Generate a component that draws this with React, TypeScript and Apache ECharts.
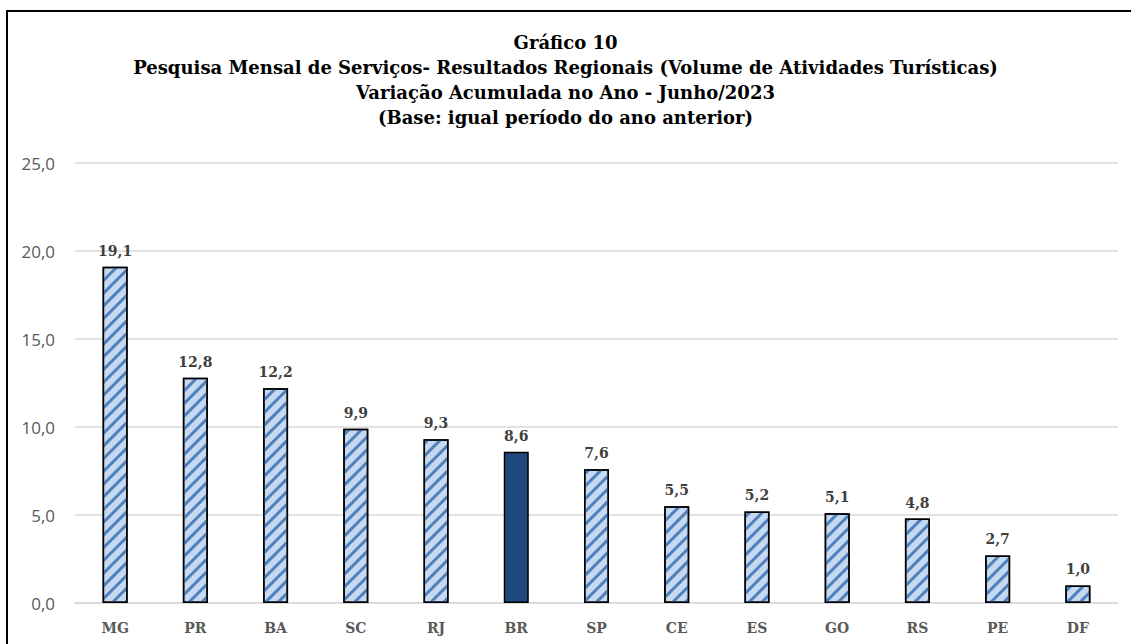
import React, { useEffect, useRef } from "react";
import * as echarts from "echarts";

const titleLines = [
  "Gráfico 10",
  "Pesquisa Mensal de Serviços- Resultados Regionais (Volume de Atividades Turísticas)",
  "Variação Acumulada no Ano - Junho/2023",
  "(Base: igual período do ano anterior)",
];
const categories = ["MG", "PR", "BA", "SC", "RJ", "BR", "SP", "CE", "ES", "GO", "RS", "PE", "DF"];
const values = [19.1, 12.8, 12.2, 9.9, 9.3, 8.6, 7.6, 5.5, 5.2, 5.1, 4.8, 2.7, 1.0];
const highlight = "BR";
const yMin = 0;
const yMax = 25;
const yInterval = 5;

const fmt = (v: number) => v.toFixed(1).replace(".", ",");

export default function App() {
  const ref = useRef<HTMLDivElement>(null);
  useEffect(() => {
    if (!ref.current) return;
    const chart = echarts.init(ref.current, undefined, { renderer: "svg" });
    const striped = values.map((v, i) => (categories[i] === highlight ? "-" : v));
    const solid = values.map((v, i) => (categories[i] === highlight ? v : "-"));
    const label = {
      show: true,
      position: "top",
      distance: 9,
      formatter: (p: any) => fmt(p.value),
      fontFamily: "DejaVu Serif",
      fontWeight: "bold",
      fontSize: 14,
      color: "#404040",
    };
    chart.setOption({
      animation: false,
      backgroundColor: "#ffffff",
      title: {
        text: titleLines.join("\n"),
        left: "center",
        top: 25,
        textStyle: {
          fontFamily: "DejaVu Serif",
          fontWeight: "bold",
          fontSize: 18,
          lineHeight: 25,
          color: "#000000",
        },
      },
      graphic: [
        { type: "line", shape: { x1: 7, y1: 11, x2: 7, y2: 644 }, style: { stroke: "#000", lineWidth: 2 } },
        { type: "line", shape: { x1: 6, y1: 11, x2: 1131, y2: 11 }, style: { stroke: "#000", lineWidth: 2 } },
      ],
      grid: { left: 75, right: 13, top: 163, bottom: 41, containLabel: false },
      xAxis: {
        type: "category",
        data: categories,
        axisLine: { show: true, lineStyle: { color: "#D9D9D9", width: 1.5 } },
        axisTick: { show: false },
        axisLabel: {
          fontFamily: "DejaVu Serif",
          fontWeight: "bold",
          fontSize: 14,
          color: "#595959",
          margin: 18,
        },
      },
      yAxis: {
        type: "value",
        min: yMin,
        max: yMax,
        interval: yInterval,
        axisLine: { show: false },
        axisTick: { show: false },
        splitLine: { lineStyle: { color: "#D9D9D9", width: 1.5 } },
        axisLabel: {
          formatter: (v: number) => fmt(v),
          fontFamily: "Open Sans",
          fontSize: 17,
          color: "#595959",
          margin: 20,
        },
      },
      series: [
        {
          type: "bar",
          data: striped,
          barWidth: 25,
          barGap: "-100%",
          itemStyle: {
            color: "#C6D9F1",
            borderColor: "#000000",
            borderWidth: 1.5,
            decal: {
              symbol: "rect",
              color: "#4F81BD",
              dashArrayX: [1, 0],
              dashArrayY: [3, 5.5],
              rotation: -Math.PI / 4,
            },
          },
          label,
        },
        {
          type: "bar",
          data: solid,
          barWidth: 25,
          barGap: "-100%",
          itemStyle: {
            color: "#1F497D",
            borderColor: "#000000",
            borderWidth: 1.5,
          },
          label,
        },
      ],
    });
    return () => chart.dispose();
  }, []);
  return <div ref={ref} style={{ position: "absolute", left: 0, top: 0, width: 1131, height: 644 }} />;
}
